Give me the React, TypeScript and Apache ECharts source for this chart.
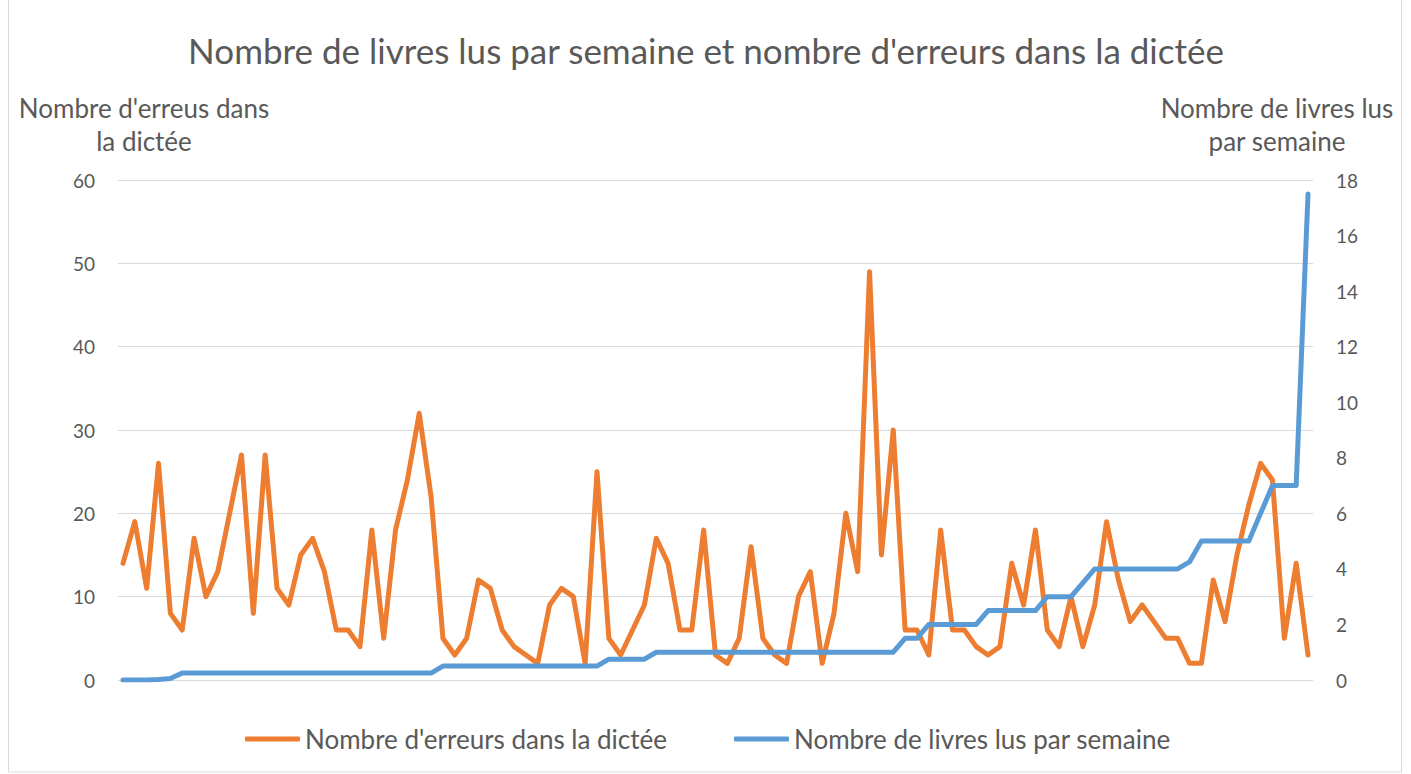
import React, { useEffect, useRef } from "react";
import * as echarts from "echarts";

const chartTitle = "Nombre de livres lus par semaine et nombre d'erreurs dans la dictée";
const leftAxisName = ["Nombre d'erreus dans", "la dictée"];
const rightAxisName = ["Nombre de livres lus", "par semaine"];
const seriesNames = ["Nombre d'erreurs dans la dictée", "Nombre de livres lus par semaine"];

const errors = [
  14, 19, 11, 26, 8, 6, 17, 10, 13, 20,
  27, 8, 27, 11, 9, 15, 17, 13, 6, 6,
  4, 18, 5, 18, 24, 32, 22, 5, 3, 5,
  12, 11, 6, 4, 3, 2, 9, 11, 10, 2,
  25, 5, 3, 6, 9, 17, 14, 6, 6, 18,
  3, 2, 5, 16, 5, 3, 2, 10, 13, 2,
  8, 20, 13, 49, 15, 30, 6, 6, 3, 18,
  6, 6, 4, 3, 4, 14, 9, 18, 6, 4,
  10, 4, 9, 19, 12, 7, 9, 7, 5, 5,
  2, 2, 12, 7, 15, 21, 26, 24, 5, 14,
  3,
];

const books = [
  0, 0, 0, 0.02, 0.05, 0.25, 0.25, 0.25, 0.25, 0.25,
  0.25, 0.25, 0.25, 0.25, 0.25, 0.25, 0.25, 0.25, 0.25, 0.25,
  0.25, 0.25, 0.25, 0.25, 0.25, 0.25, 0.25, 0.5, 0.5, 0.5,
  0.5, 0.5, 0.5, 0.5, 0.5, 0.5, 0.5, 0.5, 0.5, 0.5,
  0.5, 0.75, 0.75, 0.75, 0.75, 1, 1, 1, 1, 1,
  1, 1, 1, 1, 1, 1, 1, 1, 1, 1,
  1, 1, 1, 1, 1, 1, 1.5, 1.5, 2, 2,
  2, 2, 2, 2.5, 2.5, 2.5, 2.5, 2.5, 3, 3,
  3, 3.5, 4, 4, 4, 4, 4, 4, 4, 4,
  4.25, 5, 5, 5, 5, 5, 6, 7, 7, 7,
  17.5,
];

const FONT = "Lato";
const TEXT = "#595959";

export default function App() {
  const ref = useRef<HTMLDivElement>(null);
  useEffect(() => {
    if (!ref.current) return;
    const chart = echarts.init(ref.current, undefined, { renderer: "svg" });
    const n = errors.length;
    chart.setOption({
      animation: false,
      backgroundColor: "#ffffff",
      textStyle: { fontFamily: FONT },
      grid: { left: 118, right: 98, top: 180, bottom: 94 },
      xAxis: { type: "value", min: -0.42, max: n - 1 + 0.42, show: false },
      yAxis: [
        {
          type: "value", min: 0, max: 60, interval: 10,
          axisLine: { show: false }, axisTick: { show: false },
          axisLabel: { color: TEXT, fontSize: 19, margin: 23, fontFamily: FONT },
          splitLine: { lineStyle: { color: "#D9D9D9", width: 1 } },
        },
        {
          type: "value", min: 0, max: 18, interval: 2,
          axisLine: { show: false }, axisTick: { show: false },
          axisLabel: { color: TEXT, fontSize: 19, margin: 23, fontFamily: FONT },
          splitLine: { show: false },
        },
      ],
      legend: {
        left: 240, top: 721, itemWidth: 55, itemHeight: 5, itemGap: 67,
        icon: "roundRect",
        textStyle: { color: TEXT, fontSize: 26, fontFamily: FONT },
        data: seriesNames,
      },
      series: [
        {
          name: seriesNames[0], type: "line", yAxisIndex: 0, symbol: "none",
          data: errors.map((v, i) => [i, v]),
          color: "#ED7D31",
          lineStyle: { width: 5, color: "#ED7D31", join: "round", cap: "round" },
        },
        {
          name: seriesNames[1], type: "line", yAxisIndex: 1, symbol: "none",
          data: books.map((v, i) => [i, v]),
          color: "#5B9BD5",
          lineStyle: { width: 5, color: "#5B9BD5", join: "round", cap: "round" },
        },
      ],
      graphic: [
        { type: "rect", shape: { x: 8.5, y: -2, width: 1393, height: 774 }, style: { fill: "none", stroke: "#D9D9D9", lineWidth: 1 }, silent: true },
        { type: "text", x: 706, y: 50, style: { text: chartTitle, font: `35px ${FONT}`, fill: TEXT, align: "center", verticalAlign: "middle" } },
        { type: "text", x: 144, y: 108, style: { text: leftAxisName[0], font: `26px ${FONT}`, fill: TEXT, align: "center", verticalAlign: "middle" } },
        { type: "text", x: 144, y: 141, style: { text: leftAxisName[1], font: `26px ${FONT}`, fill: TEXT, align: "center", verticalAlign: "middle" } },
        { type: "text", x: 1277, y: 108, style: { text: rightAxisName[0], font: `26px ${FONT}`, fill: TEXT, align: "center", verticalAlign: "middle" } },
        { type: "text", x: 1277, y: 141, style: { text: rightAxisName[1], font: `26px ${FONT}`, fill: TEXT, align: "center", verticalAlign: "middle" } },
      ],
    });
    return () => chart.dispose();
  }, []);
  return <div ref={ref} style={{ position: "absolute", left: 0, top: 0, width: 1411, height: 774 }} />;
}
